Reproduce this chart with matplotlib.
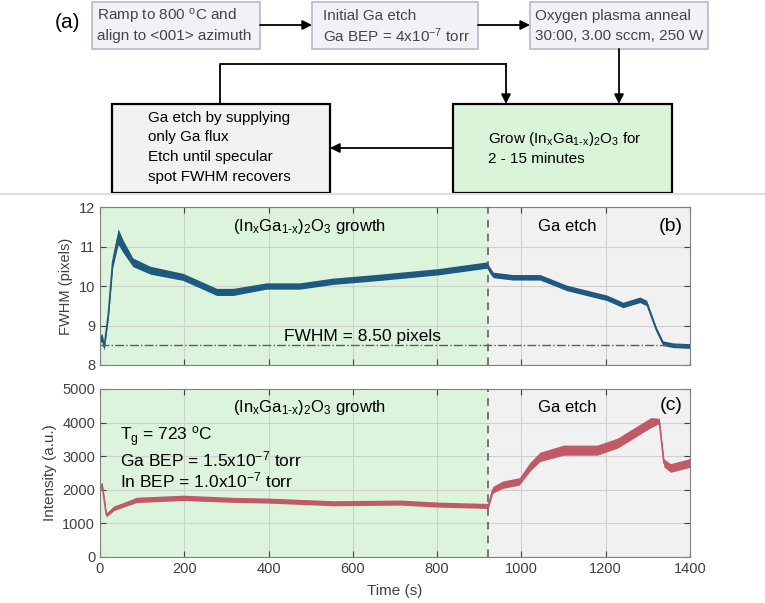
import numpy as np
import matplotlib.pyplot as plt
from matplotlib.patches import Rectangle

plt.rcParams['font.family'] = ['Liberation Sans', 'DejaVu Sans']
plt.rcParams['mathtext.fontset'] = 'custom'
plt.rcParams['mathtext.rm'] = 'Liberation Sans'
plt.rcParams['mathtext.it'] = 'Liberation Sans'
plt.rcParams['mathtext.default'] = 'regular'

# FWHM trace (b)
t_fwhm = [0, 5, 10, 20, 30, 43, 55, 78, 119, 197, 277, 316, 395, 474, 553, 664,
          802, 918, 925, 933, 980, 1044, 1108, 1203, 1241, 1281, 1297, 1320,
          1336, 1360, 1400]
fwhm = [8.65, 8.7, 8.45, 9.3, 10.6, 11.25, 11.0, 10.6, 10.4, 10.23, 9.85, 9.85,
        10.0, 10.0, 10.12, 10.22, 10.36, 10.53, 10.4, 10.28, 10.22, 10.22,
        9.95, 9.7, 9.52, 9.65, 9.57, 8.9, 8.55, 8.5, 8.48]
fwhm_spread = [0.09, 0.1, 0.08, 0.1, 0.15, 0.2, 0.16, 0.11, 0.1, 0.09, 0.09, 0.09,
               0.08, 0.08, 0.08, 0.08, 0.08, 0.08, 0.08, 0.07, 0.07, 0.07,
               0.07, 0.07, 0.07, 0.07, 0.07, 0.06, 0.06, 0.06, 0.06]

# intensity trace (c)
t_int = [0, 5, 10, 15, 33, 55, 87, 198, 317, 396, 554, 712, 802, 918, 922,
         932, 955, 995, 1020, 1044, 1100, 1180, 1228, 1267, 1307, 1327, 1338,
         1354, 1400]
intensity = [2050, 2150, 1700, 1250, 1450, 1550, 1700, 1760, 1700, 1680, 1600,
             1620, 1560, 1520, 1550, 2000, 2150, 2250, 2680, 2980, 3180, 3180,
             3390, 3690, 4000, 4050, 2800, 2650, 2800]
int_spread = [80, 80, 80, 60, 70, 70, 80, 80, 75, 75, 75, 75, 75, 75, 80,
              100, 110, 110, 130, 140, 150, 150, 150, 150, 150, 80, 120,
              130, 130]

t_switch = 920
fwhm_ref = 8.5

green = '#dcf4dc'
grey_bg = '#f1f1f1'
blue = '#1d5a7e'
rose = '#bf5a66'
tick_col = '#404040'
sub_x = '$_x$Ga$_{1\\text{-}x}$)$_2$O$_3$'

fig = plt.figure(figsize=(7.65, 6.03), dpi=100)

# ---- (a) flowchart, pixel coordinates ----
ax0 = fig.add_axes([0, 1 - 200 / 603, 1, 200 / 603])
ax0.set_xlim(0, 765)
ax0.set_ylim(200, 0)
ax0.axis('off')

def box(x0, y0, x1, y1, fc, ec, lw):
    ax0.add_patch(Rectangle((x0, y0), x1 - x0, y1 - y0, fc=fc, ec=ec, lw=lw))

def arrow(x0, y0, x1, y1):
    ax0.annotate('', xy=(x1, y1), xytext=(x0, y0),
                 arrowprops=dict(arrowstyle='-|>', color='black', lw=1.3,
                                 mutation_scale=14, shrinkA=0, shrinkB=0))

box(92, 2, 260, 49, '#f1f1f8', '#b8b8cc', 1.2)
box(312, 2, 478, 49, '#f1f1f8', '#b8b8cc', 1.2)
box(530, 2, 708, 49, '#f1f1f8', '#b8b8cc', 1.2)
box(112, 104, 330, 193, '#f2f2f2', 'black', 1.6)
box(453, 104, 672, 193, '#d9f4d9', 'black', 1.6)

fs = 11
ax0.text(68, 22, '(a)', fontsize=15, ha='center', va='center')
ax0.text(97, 16, 'Ramp to 800 $^o$C and', fontsize=fs, va='center', color='#444444')
ax0.text(97, 36, 'align to <001> azimuth', fontsize=fs, va='center', color='#444444')
ax0.text(323, 16, 'Initial Ga etch', fontsize=fs, va='center', color='#444444')
ax0.text(323, 36, 'Ga BEP = 4x10$^{-7}$ torr', fontsize=fs, va='center', color='#444444')
ax0.text(535, 16, 'Oxygen plasma anneal', fontsize=fs, va='center', color='#444444')
ax0.text(535, 36, '30:00, 3.00 sccm, 250 W', fontsize=fs, va='center', color='#444444')
for i, s in enumerate(['Ga etch by supplying', 'only Ga flux',
                       'Etch until specular', 'spot FWHM recovers']):
    ax0.text(148, 118 + 19.5 * i, s, fontsize=fs, va='center')
ax0.text(488, 139, 'Grow (In' + sub_x + ' for', fontsize=fs, va='center')
ax0.text(488, 159, '2 - 15 minutes', fontsize=fs, va='center')

arrow(260, 25, 312, 25)
arrow(478, 25, 530, 25)
arrow(619, 49, 619, 104)
arrow(453, 148, 330, 148)
ax0.plot([220, 220, 506], [104, 64, 64], color='black', lw=1.3)
arrow(506, 64, 506, 104)
ax0.plot([0, 765], [194, 194], color='#dddddd', lw=1.5)

# ---- (b) and (c) ----
axb = fig.add_axes([100 / 765, 1 - 365 / 603, 590 / 765, 158 / 603])
axc = fig.add_axes([100 / 765, 1 - 557 / 603, 590 / 765, 168 / 603])

for ax in (axb, axc):
    ax.axvspan(0, t_switch, color=green, zorder=0)
    ax.axvspan(t_switch, 1400, color=grey_bg, zorder=0)
    ax.axvline(t_switch, color='#555555', ls=(0, (5, 4)), lw=1.1, zorder=3)
    ax.set_xlim(0, 1400)
    ax.set_xticks(np.arange(0, 1401, 200))
    ax.grid(True, color='#cfcfcf', lw=0.8)
    ax.set_axisbelow(True)
    ax.tick_params(direction='in', top=True, right=True, colors=tick_col,
                   labelsize=10.5, length=4)
    for sp in ax.spines.values():
        sp.set_color('#808080')

f = np.array(fwhm)
fs_ = np.array(fwhm_spread)
axb.fill_between(t_fwhm, f - fs_, f + fs_, color=blue, lw=0, zorder=2)
axb.plot(t_fwhm, fwhm, color=blue, lw=1.2, zorder=2)
axb.axhline(fwhm_ref, color='#556060', ls='-.', lw=1.0, zorder=2)
axb.set_ylim(8, 12)
axb.set_yticks([8, 9, 10, 11, 12])
axb.tick_params(labelbottom=False)
axb.set_ylabel('FWHM (pixels)', color=tick_col, fontsize=10.5, labelpad=4)
axb.text(498, 11.5, '(In' + sub_x + ' growth', fontsize=12,
         ha='center', va='center')
axb.text(1108, 11.5, 'Ga etch', fontsize=12, ha='center', va='center')
axb.text(1355, 11.5, '(b)', fontsize=14, ha='center', va='center')
axb.text(622, 8.73, 'FWHM = 8.50 pixels', fontsize=12.5, ha='center', va='center')

I = np.array(intensity)
Is = np.array(int_spread)
axc.fill_between(t_int, I - Is, I + Is, color=rose, lw=0, zorder=2)
axc.plot(t_int, intensity, color=rose, lw=1.2, zorder=2)
axc.set_ylim(0, 5000)
axc.set_yticks(np.arange(0, 5001, 1000))
axc.set_xlabel('Time (s)', color=tick_col, fontsize=11, labelpad=6)
axc.set_ylabel('Intensity (a.u.)', color=tick_col, fontsize=11, labelpad=4)
axc.text(498, 4435, '(In' + sub_x + ' growth', fontsize=12,
         ha='center', va='center')
axc.text(1108, 4435, 'Ga etch', fontsize=12, ha='center', va='center')
axc.text(1355, 4500, '(c)', fontsize=14, ha='center', va='center')
axc.text(47, 3570, 'T$_g$ = 723 $^o$C', fontsize=12.5, va='center')
axc.text(47, 2890, 'Ga BEP = 1.5x10$^{-7}$ torr', fontsize=12.5, va='center')
axc.text(47, 2290, 'In BEP = 1.0x10$^{-7}$ torr', fontsize=12.5, va='center')

fig.savefig('out.png', dpi=100)
